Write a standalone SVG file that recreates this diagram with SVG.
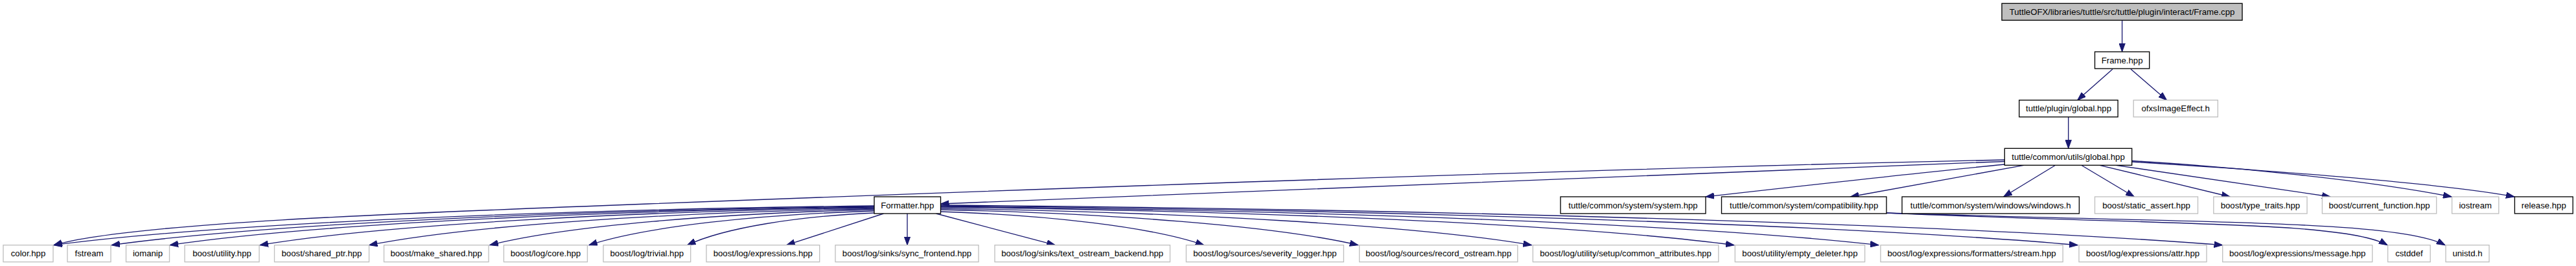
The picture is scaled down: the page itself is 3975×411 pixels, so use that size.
<svg xmlns="http://www.w3.org/2000/svg" width="3975" height="411" viewBox="0 0 3975 411">
<style>
.n rect{fill:#fff;stroke:#000;stroke-width:1.33}
.g rect{fill:#fff;stroke:#bfbfbf;stroke-width:1.33}
.r rect{fill:#bfbfbf;stroke:#000;stroke-width:1.33}
text{font-family:"Liberation Sans",Arial,sans-serif;font-size:13.2px;fill:#000;text-anchor:middle}
#edges path{fill:none;stroke:#191970;stroke-width:1.33;marker-end:url(#a)}
</style>
<defs>
<marker id="a" markerWidth="14" markerHeight="10" refX="13" refY="5" orient="auto" markerUnits="userSpaceOnUse">
<path d="M0,0.3 L13,5 L0,9.7 Z" fill="#191970" stroke="#191970" stroke-width="1"/>
</marker>
</defs>
<rect width="3975" height="411" fill="#fff"/>
<g id="edges">
<path d="M3274.6,31.7 L3274.6,80"/>
<path d="M3260,106.7 L3205.7,154.7"/>
<path d="M3288,106.7 L3343.5,154.7"/>
<path d="M3191.7,181 L3191.7,229.3"/>
<path d="M3093.3,249.5 C2500,272 1900,296 1451.5,315"/>
<path d="M3093.3,247 C2400,262 1500,296 1000,315 C600,330 200,345 83,378.7"/>
<path d="M3093.3,254 C2950,268 2800,285 2632,304"/>
<path d="M3123,255.3 L2855.4,304"/>
<path d="M3171.7,255.3 L3091.7,304"/>
<path d="M3211.7,255.3 L3293.3,304"/>
<path d="M3240,255.3 L3441,304"/>
<path d="M3265,255.3 L3596,304"/>
<path d="M3289.7,248.5 C3450,258 3650,278 3783,304"/>
<path d="M3289.7,250 C3480,262 3760,282 3880,304"/>
<path d="M2911,329 C3350,348 3620,342 3684,378.7"/>
<path d="M2911,329 C3400,345 3700,340 3773,378.7"/>
<path d="M1349,318 C842.6,324.1 336.2,345.3 83,378.7"/>
<path d="M1349,319 C878.2,325 407.4,345.9 172,378.7"/>
<path d="M1349,320 C914.2,325.9 479.4,346.4 262,378.7"/>
<path d="M1349,321 C969.8,326.8 590.6,347 401,378.7"/>
<path d="M1349,322.5 C1037.2,328.1 725.4,347.8 569.5,378.7"/>
<path d="M1349,324 C1111.7,329.5 874.4,348.6 755.7,378.7"/>
<path d="M1349,326 C1172.9,331.3 996.8,349.7 908.8,378.7"/>
<path d="M1349,329 C1233.6,334 1118.3,351.4 1060.6,378.7"/>
<path d="M1363.5,330 L1213.6,378.7"/>
<path d="M1400,330 L1400,378.7"/>
<path d="M1444.5,330 L1628.2,378.7"/>
<path d="M1451.5,327 C1614,332.2 1776.5,350.3 1857.8,378.7"/>
<path d="M1451.5,324 C1709.2,329.5 1966.9,348.6 2095.7,378.7"/>
<path d="M1451.5,322 C1816.3,327.7 2181.1,347.5 2363.5,378.7"/>
<path d="M1451.5,320 C1941.3,325.9 2431.1,346.4 2676,378.7"/>
<path d="M1451.5,319 C2030.5,325 2609.5,345.9 2899,378.7"/>
<path d="M1451.5,318 C2153.3,324.1 2855.1,348 3206,378.7"/>
<path d="M1451.5,317 C2242.7,323.2 3034,348 3429.6,378.7"/>
</g>
<g id="n_root" class="r"><rect x="3089" y="5.3" width="371" height="26"/><text x="3274.5" y="22.8">TuttleOFX/libraries/tuttle/src/tuttle/plugin/interact/Frame.cpp</text></g>
<g id="n_frame" class="n"><rect x="3232.5" y="80" width="84.2" height="26"/><text x="3274.6" y="97.5">Frame.hpp</text></g>
<g id="n_pglobal" class="n"><rect x="3115.8" y="154.7" width="152.3" height="26"/><text x="3192" y="172.2">tuttle/plugin/global.hpp</text></g>
<g id="n_ofxs" class="g"><rect x="3292.2" y="154.7" width="130.1" height="26"/><text x="3357.2" y="172.2">ofxsImageEffect.h</text></g>
<g id="n_uglobal" class="n"><rect x="3093.3" y="229.3" width="196.4" height="26"/><text x="3191.5" y="246.8">tuttle/common/utils/global.hpp</text></g>
<g id="n_formatter" class="n"><rect x="1349" y="304" width="102.5" height="26"/><text x="1400.2" y="321.5">Formatter.hpp</text></g>
<g id="n_system" class="n"><rect x="2408" y="304" width="224" height="26"/><text x="2520" y="321.5">tuttle/common/system/system.hpp</text></g>
<g id="n_compat" class="n"><rect x="2656.5" y="304" width="254.5" height="26"/><text x="2783.7" y="321.5">tuttle/common/system/compatibility.hpp</text></g>
<g id="n_windows" class="n"><rect x="2935" y="304" width="273.4" height="26"/><text x="3071.7" y="321.5">tuttle/common/system/windows/windows.h</text></g>
<g id="n_static_assert" class="g"><rect x="3232.5" y="304" width="159" height="26"/><text x="3312" y="321.5">boost/static_assert.hpp</text></g>
<g id="n_type_traits" class="g"><rect x="3415.8" y="304" width="144.2" height="26"/><text x="3487.9" y="321.5">boost/type_traits.hpp</text></g>
<g id="n_current_function" class="g"><rect x="3583.4" y="304" width="176.3" height="26"/><text x="3671.5" y="321.5">boost/current_function.hpp</text></g>
<g id="n_iostream" class="g"><rect x="3783.6" y="304" width="72.2" height="26"/><text x="3819.7" y="321.5">iostream</text></g>
<g id="n_release" class="n"><rect x="3880.4" y="304" width="89.8" height="26"/><text x="3925.3" y="321.5">release.hpp</text></g>
<g id="n_color" class="g"><rect x="5" y="378.7" width="77" height="26"/><text x="43.5" y="396.2">color.hpp</text></g>
<g id="n_fstream" class="g"><rect x="104" y="378.7" width="67" height="26"/><text x="137.5" y="396.2">fstream</text></g>
<g id="n_iomanip" class="g"><rect x="194.5" y="378.7" width="67" height="26"/><text x="228" y="396.2">iomanip</text></g>
<g id="n_utility" class="g"><rect x="285" y="378.7" width="115" height="26"/><text x="342.5" y="396.2">boost/utility.hpp</text></g>
<g id="n_shared_ptr" class="g"><rect x="423.5" y="378.7" width="146" height="26"/><text x="496.5" y="396.2">boost/shared_ptr.hpp</text></g>
<g id="n_make_shared" class="g"><rect x="592.5" y="378.7" width="161.5" height="26"/><text x="673.2" y="396.2">boost/make_shared.hpp</text></g>
<g id="n_core" class="g"><rect x="777.4" y="378.7" width="129" height="26"/><text x="841.9" y="396.2">boost/log/core.hpp</text></g>
<g id="n_trivial" class="g"><rect x="931" y="378.7" width="134.7" height="26"/><text x="998.3" y="396.2">boost/log/trivial.hpp</text></g>
<g id="n_expressions" class="g"><rect x="1090" y="378.7" width="174.7" height="26"/><text x="1177.3" y="396.2">boost/log/expressions.hpp</text></g>
<g id="n_sync" class="g"><rect x="1289" y="378.7" width="221" height="26"/><text x="1399.5" y="396.2">boost/log/sinks/sync_frontend.hpp</text></g>
<g id="n_text_ostream" class="g"><rect x="1535" y="378.7" width="270.5" height="26"/><text x="1670.2" y="396.2">boost/log/sinks/text_ostream_backend.hpp</text></g>
<g id="n_severity" class="g"><rect x="1830.4" y="378.7" width="243" height="26"/><text x="1951.9" y="396.2">boost/log/sources/severity_logger.hpp</text></g>
<g id="n_record" class="g"><rect x="2097.6" y="378.7" width="244.2" height="26"/><text x="2219.7" y="396.2">boost/log/sources/record_ostream.hpp</text></g>
<g id="n_common_attr" class="g"><rect x="2365.4" y="378.7" width="286.4" height="26"/><text x="2508.6" y="396.2">boost/log/utility/setup/common_attributes.hpp</text></g>
<g id="n_empty_deleter" class="g"><rect x="2677.3" y="378.7" width="200.3" height="26"/><text x="2777.4" y="396.2">boost/utility/empty_deleter.hpp</text></g>
<g id="n_fstream_fmt" class="g"><rect x="2901.9" y="378.7" width="281.3" height="26"/><text x="3042.5" y="396.2">boost/log/expressions/formatters/stream.hpp</text></g>
<g id="n_attr" class="g"><rect x="3208" y="378.7" width="197" height="26"/><text x="3306.5" y="396.2">boost/log/expressions/attr.hpp</text></g>
<g id="n_message" class="g"><rect x="3429.7" y="378.7" width="231" height="26"/><text x="3545.2" y="396.2">boost/log/expressions/message.hpp</text></g>
<g id="n_cstddef" class="g"><rect x="3684.6" y="378.7" width="65.6" height="26"/><text x="3717.4" y="396.2">cstddef</text></g>
<g id="n_unistd" class="g"><rect x="3774" y="378.7" width="67" height="26"/><text x="3807.5" y="396.2">unistd.h</text></g>
</svg>
